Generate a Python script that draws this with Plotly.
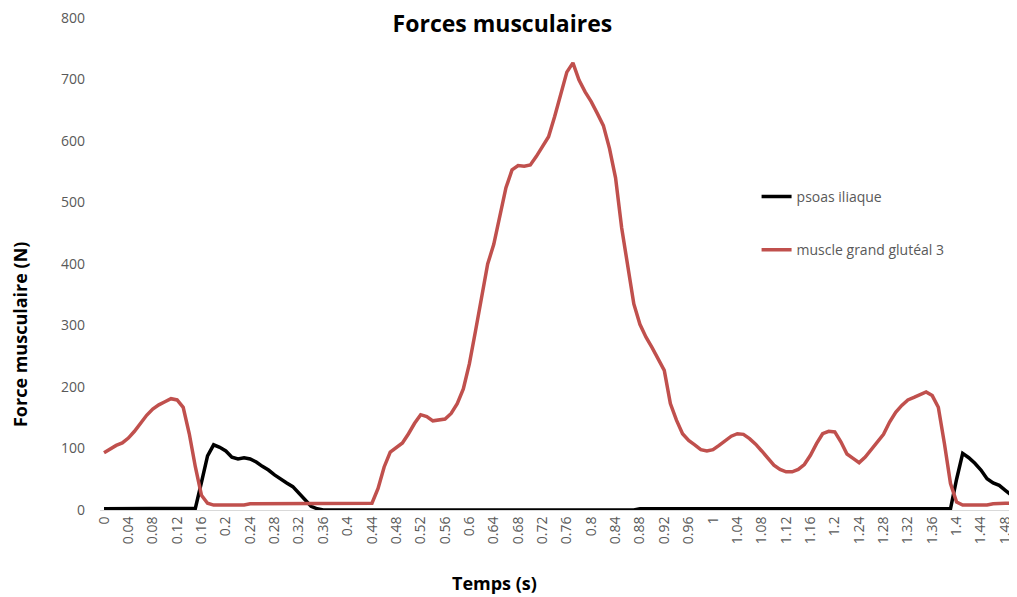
import plotly.graph_objects as go

# temps (s), un point toutes les 0.01 s
temps = [round(i * 0.01, 2) for i in range(151)]

psoas_iliaque = [
    2, 2, 2, 2, 2, 2, 2, 2, 2, 2,          # 0.00 - 0.09
    2, 2, 2, 2, 2, 3, 45, 88, 106, 102,    # 0.10 - 0.19
    96, 86, 83, 85, 83, 78, 71, 65, 57, 50,  # 0.20 - 0.29
    44, 38, 27, 15, 6, 2, 0, 0, 0, 0,      # 0.30 - 0.39
    0, 0, 0, 0, 0, 0, 0, 0, 0, 0,          # 0.40 - 0.49
    0, 0, 0, 0, 0, 0, 0, 0, 0, 0,          # 0.50 - 0.59
    0, 0, 0, 0, 0, 0, 0, 0, 0, 0,          # 0.60 - 0.69
    0, 0, 0, 0, 0, 0, 0, 0, 0, 0,          # 0.70 - 0.79
    0, 0, 0, 0, 0, 0, 0, 0, 2, 2,          # 0.80 - 0.89
    2, 2, 2, 2, 2, 2, 2, 2, 2, 2,          # 0.90 - 0.99
    2, 2, 2, 2, 2, 2, 2, 2, 2, 2,          # 1.00 - 1.09
    2, 2, 2, 2, 2, 2, 2, 2, 2, 2,          # 1.10 - 1.19
    2, 2, 2, 2, 2, 2, 2, 2, 2, 2,          # 1.20 - 1.29
    2, 2, 2, 2, 2, 2, 2, 2, 2, 2,          # 1.30 - 1.39
    50, 92, 85, 76, 65, 51, 44, 40, 32, 24,  # 1.40 - 1.49
    20,                                    # 1.50
]

grand_gluteal_3 = [
    93, 99, 105, 109, 117, 128, 141, 154, 164, 171,      # 0.00 - 0.09
    176, 181, 179, 167, 124, 70, 24, 11, 8, 8,           # 0.10 - 0.19
    8, 8, 8, 8, 10, 10, 10, 10, 10, 10,                  # 0.20 - 0.29
    10, 10, 10, 10, 10, 10, 10, 10, 10, 10,              # 0.30 - 0.39
    10, 10, 10, 10, 11, 35, 70, 94, 101, 109,            # 0.40 - 0.49
    124, 141, 155, 152, 145, 146, 148, 157, 173, 197,    # 0.50 - 0.59
    238, 291, 345, 400, 432, 475, 524, 553, 560, 559,    # 0.60 - 0.69
    561, 575, 590, 607, 640, 675, 712, 727, 699, 680,    # 0.70 - 0.79
    664, 645, 625, 588, 540, 459, 394, 335, 302, 281,    # 0.80 - 0.89
    264, 246, 227, 173, 146, 124, 113, 106, 98, 96,      # 0.90 - 0.99
    98, 105, 112, 120, 124, 123, 116, 107, 96, 85,       # 1.00 - 1.09
    73, 66, 62, 62, 66, 74, 89, 108, 124, 128,           # 1.10 - 1.19
    127, 111, 91, 84, 77, 86, 98, 111, 123, 143,         # 1.20 - 1.29
    159, 170, 179, 183, 188, 192, 186, 167, 108, 43,     # 1.30 - 1.39
    13, 8, 8, 8, 8, 8, 10, 11, 11, 11,                   # 1.40 - 1.49
    11,                                                  # 1.50
]

tick_labels = [
    "0", "0.04", "0.08", "0.12", "0.16", "0.2", "0.24", "0.28", "0.32", "0.36",
    "0.4", "0.44", "0.48", "0.52", "0.56", "0.6", "0.64", "0.68", "0.72", "0.76",
    "0.8", "0.84", "0.88", "0.92", "0.96", "1", "1.04", "1.08", "1.12", "1.16",
    "1.2", "1.24", "1.28", "1.32", "1.36", "1.4", "1.44", "1.48",
]
tick_values = [float(t) for t in tick_labels]

grey = "#595959"

fig = go.Figure()
fig.add_trace(go.Scatter(
    x=temps, y=psoas_iliaque, name="psoas iliaque", mode="lines",
    line=dict(color="#000000", width=3.5), legendgroup="a",
))
fig.add_trace(go.Scatter(
    x=temps, y=grand_gluteal_3, name="muscle grand glutéal 3", mode="lines",
    line=dict(color="#C0504D", width=3.5), legendgroup="b",
))

# the page body has an 8px margin, so the figure is a bit smaller than the window
fig.update_layout(
    width=1009, height=589,
    margin=dict(l=92, r=0, t=8, b=87),
    paper_bgcolor="white", plot_bgcolor="white",
    font=dict(family="Open Sans", size=14, color=grey),
    title=dict(
        text="<b>Forces musculaires</b>",
        x=0.49, xanchor="center", y=0.973, yanchor="middle",
        font=dict(family="Open Sans", size=23, color="#000000"),
    ),
    legend=dict(
        x=0.716, xanchor="left", y=0.669, yanchor="top",
        bgcolor="rgba(0,0,0,0)", tracegroupgap=32,
        font=dict(family="Open Sans", size=14, color=grey),
    ),
    annotations=[
        dict(text="<b>Force musculaire (N)</b>", xref="paper", yref="paper",
             x=-0.087, y=0.356, xanchor="center", yanchor="middle", textangle=-90,
             showarrow=False, font=dict(family="Open Sans", size=18, color="#000000")),
        dict(text="<b>Temps (s)</b>", xref="paper", yref="paper",
             x=0.43, y=-0.148, xanchor="center", yanchor="middle",
             showarrow=False, font=dict(family="Open Sans", size=18, color="#000000")),
    ],
)

fig.update_xaxes(
    range=[-0.0066, 1.4992],
    tickmode="array", tickvals=tick_values, ticktext=tick_labels,
    tickangle=-90, showgrid=False, zeroline=False,
    showline=True, linecolor="#d9d9d9", linewidth=1,
    ticks="", tickfont=dict(size=14, color=grey),
)
fig.update_yaxes(
    range=[0, 800], dtick=100, showgrid=False, zeroline=False,
    showline=False, ticks="", ticklabelstandoff=14,
    ticklabeloverflow="allow",
    tickfont=dict(size=14, color=grey),
)

fig.write_html("out.html")
